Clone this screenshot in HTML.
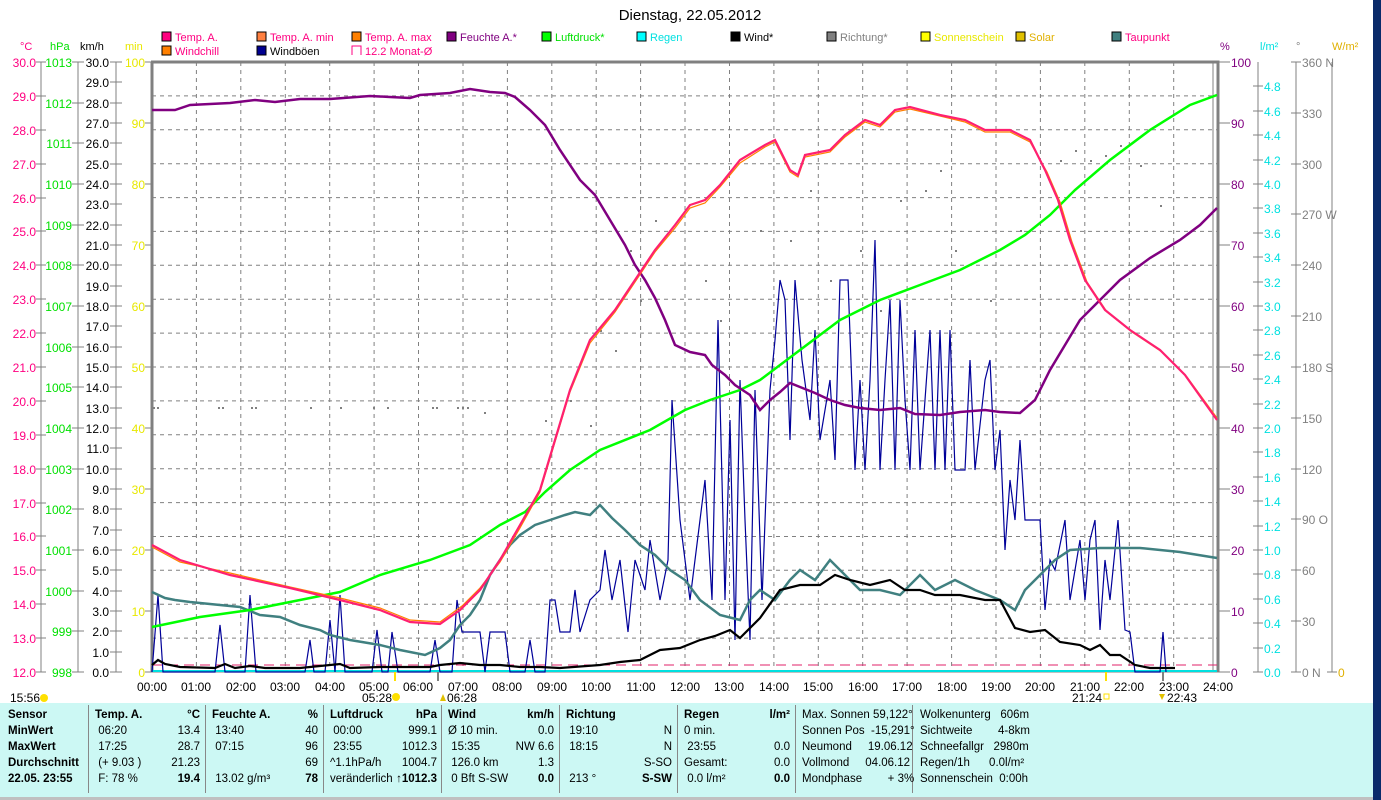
<!DOCTYPE html>
<html><head><meta charset="utf-8"><style>
body{margin:0;width:1381px;height:800px;overflow:hidden;background:#fff;font-family:"Liberation Sans",sans-serif}
svg{position:absolute;left:0;top:0}
.tb{position:absolute;left:0;top:703px;width:1373px;height:94px;background:#ccf8f4;font-family:"Liberation Sans",sans-serif;font-size:11.5px}
.c{position:absolute;top:4px;line-height:16px;white-space:pre}
.b{font-weight:bold}
.sep{position:absolute;top:2px;width:1px;height:88px;background:#888}
</style></head><body>
<svg width="1381" height="800" font-family="Liberation Sans, sans-serif" font-size="12">
<rect x="1373" y="0" width="8" height="800" fill="#0a2a6a"/>
<text x="690" y="20" font-size="15" text-anchor="middle">Dienstag, 22.05.2012</text>
<!-- legend -->
<g font-size="11">
<rect x="162" y="32" width="9" height="9" fill="#ff0080" stroke="#000"/><text x="175" y="41" fill="#ff0080">Temp. A.</text>
<rect x="257" y="32" width="9" height="9" fill="#ff8040" stroke="#000"/><text x="270" y="41" fill="#ff0080">Temp. A. min</text>
<rect x="352" y="32" width="9" height="9" fill="#ff8000" stroke="#000"/><text x="365" y="41" fill="#ff0080">Temp. A. max</text>
<rect x="447" y="32" width="9" height="9" fill="#800080" stroke="#000"/><text x="460" y="41" fill="#800080">Feuchte A.*</text>
<rect x="542" y="32" width="9" height="9" fill="#00ff00" stroke="#000"/><text x="555" y="41" fill="#00e000">Luftdruck*</text>
<rect x="637" y="32" width="9" height="9" fill="#00ffff" stroke="#000"/><text x="650" y="41" fill="#00e0e0">Regen</text>
<rect x="731" y="32" width="9" height="9" fill="#000" stroke="#000"/><text x="744" y="41">Wind*</text>
<rect x="827" y="32" width="9" height="9" fill="#808080" stroke="#000"/><text x="840" y="41" fill="#808080">Richtung*</text>
<rect x="921" y="32" width="9" height="9" fill="#ffff00" stroke="#000"/><text x="934" y="41" fill="#e8e800">Sonnenschein</text>
<rect x="1016" y="32" width="9" height="9" fill="#e0c000" stroke="#000"/><text x="1029" y="41" fill="#e0b000">Solar</text>
<rect x="1112" y="32" width="9" height="9" fill="#408080" stroke="#000"/><text x="1125" y="41" fill="#ff0080">Taupunkt</text>
<rect x="162" y="46" width="9" height="9" fill="#ff8000" stroke="#000"/><text x="175" y="55" fill="#ff0080">Windchill</text>
<rect x="257" y="46" width="9" height="9" fill="#000090" stroke="#000"/><text x="270" y="55">Windböen</text>
<path d="M352 55V46h9v9" fill="none" stroke="#ff0080"/><text x="365" y="55" fill="#ff0080">12.2 Monat-Ø</text>
</g>
<!-- axis headers -->
<g font-size="11">
<text x="20" y="50" fill="#ff0080">°C</text><text x="50" y="50" fill="#00e000">hPa</text><text x="80" y="50">km/h</text><text x="125" y="50" fill="#e8e800">min</text>
<text x="1220" y="50" fill="#800080">%</text><text x="1260" y="50" fill="#00e0e0">l/m²</text><text x="1296" y="50" fill="#808080">°</text><text x="1332" y="50" fill="#e0b000">W/m²</text>
</g>
<!-- grid -->
<g stroke="#808080" stroke-dasharray="4,4" stroke-width="1">
<path d="M196.4 62V672M240.8 62V672M285.3 62V672M329.7 62V672M374.1 62V672M418.5 62V672M463 62V672M507.4 62V672M551.8 62V672M596.2 62V672M640.6 62V672M685 62V672M729.5 62V672M773.9 62V672M818.3 62V672M862.7 62V672M907.1 62V672M951.6 62V672M996 62V672M1040.4 62V672M1084.8 62V672M1129.3 62V672M1173.7 62V672"/>
<path d="M152 95.9H1217M152 129.8H1217M152 163.7H1217M152 197.6H1217M152 231.4H1217M152 265.3H1217M152 299.2H1217M152 333.1H1217M152 367H1217M152 400.9H1217M152 434.8H1217M152 468.7H1217M152 502.6H1217M152 536.5H1217M152 570.3H1217M152 604.2H1217M152 638.1H1217"/>
</g>
<!-- plot frame -->
<path d="M151 62H1218V672M152 62V672" stroke="#808080" stroke-width="3" fill="none"/>
<line x1="1213" y1="62" x2="1213" y2="672" stroke="#808080" stroke-width="1"/>
<line x1="152" y1="672" x2="1218" y2="672" stroke="#808080"/>
<!-- left axes -->
<g stroke="#808080" fill="none"><path d="M41 62V672M78 62V672M116 62V672"/></g>
<g fill="#ff0080" text-anchor="end" font-size="12">
<text x="36" y="67">30.0</text><text x="36" y="101">29.0</text><text x="36" y="135">28.0</text><text x="36" y="169">27.0</text><text x="36" y="203">26.0</text><text x="36" y="236">25.0</text><text x="36" y="270">24.0</text><text x="36" y="304">23.0</text><text x="36" y="338">22.0</text><text x="36" y="372">21.0</text><text x="36" y="406">20.0</text><text x="36" y="440">19.0</text><text x="36" y="474">18.0</text><text x="36" y="508">17.0</text><text x="36" y="541">16.0</text><text x="36" y="575">15.0</text><text x="36" y="609">14.0</text><text x="36" y="643">13.0</text><text x="36" y="677">12.0</text>
</g>
<g stroke="#808080"><path d="M36 62h10M36 96h10M36 130h10M36 164h10M36 198h10M36 231h10M36 265h10M36 299h10M36 333h10M36 367h10M36 401h10M36 435h10M36 469h10M36 503h10M36 536h10M36 570h10M36 604h10M36 638h10M36 672h10"/>
<path d="M72 62h12M72 103h12M72 143h12M72 184h12M72 225h12M72 265h12M72 306h12M72 347h12M72 387h12M72 428h12M72 469h12M72 509h12M72 550h12M72 591h12M72 631h12M72 672h12"/>
<path d="M110 62h12M110 82h12M110 103h12M110 123h12M110 143h12M110 164h12M110 184h12M110 204h12M110 225h12M110 245h12M110 265h12M110 286h12M110 306h12M110 326h12M110 347h12M110 367h12M110 387h12M110 408h12M110 428h12M110 448h12M110 469h12M110 489h12M110 509h12M110 530h12M110 550h12M110 570h12M110 591h12M110 611h12M110 631h12M110 652h12M110 672h12"/>
<path d="M145 62h7M145 123h7M145 184h7M145 245h7M145 306h7M145 367h7M145 428h7M145 489h7M145 550h7M145 611h7M145 672h7"/></g>
<g fill="#00e000" text-anchor="end" font-size="12">
<text x="72" y="67">1013</text><text x="72" y="108">1012</text><text x="72" y="148">1011</text><text x="72" y="189">1010</text><text x="72" y="230">1009</text><text x="72" y="270">1008</text><text x="72" y="311">1007</text><text x="72" y="352">1006</text><text x="72" y="392">1005</text><text x="72" y="433">1004</text><text x="72" y="474">1003</text><text x="72" y="514">1002</text><text x="72" y="555">1001</text><text x="72" y="596">1000</text><text x="72" y="636">999</text><text x="72" y="677">998</text>
</g>
<g fill="#000" text-anchor="end" font-size="12">
<text x="109" y="67">30.0</text><text x="109" y="87">29.0</text><text x="109" y="108">28.0</text><text x="109" y="128">27.0</text><text x="109" y="148">26.0</text><text x="109" y="169">25.0</text><text x="109" y="189">24.0</text><text x="109" y="209">23.0</text><text x="109" y="230">22.0</text><text x="109" y="250">21.0</text><text x="109" y="270">20.0</text><text x="109" y="291">19.0</text><text x="109" y="311">18.0</text><text x="109" y="331">17.0</text><text x="109" y="352">16.0</text><text x="109" y="372">15.0</text><text x="109" y="392">14.0</text><text x="109" y="413">13.0</text><text x="109" y="433">12.0</text><text x="109" y="453">11.0</text><text x="109" y="474">10.0</text><text x="109" y="494">9.0</text><text x="109" y="514">8.0</text><text x="109" y="535">7.0</text><text x="109" y="555">6.0</text><text x="109" y="575">5.0</text><text x="109" y="596">4.0</text><text x="109" y="616">3.0</text><text x="109" y="636">2.0</text><text x="109" y="657">1.0</text><text x="109" y="677">0.0</text>
</g>
<g fill="#e8e800" text-anchor="end" font-size="12">
<text x="145" y="67">100</text><text x="145" y="128">90</text><text x="145" y="189">80</text><text x="145" y="250">70</text><text x="145" y="311">60</text><text x="145" y="372">50</text><text x="145" y="433">40</text><text x="145" y="494">30</text><text x="145" y="555">20</text><text x="145" y="616">10</text><text x="145" y="677">0</text>
</g>
<!-- right axes -->
<g stroke="#808080" fill="none"><path d="M1218 62h12M1218 123h12M1218 184h12M1218 245h12M1218 306h12M1218 367h12M1218 428h12M1218 489h12M1218 550h12M1218 611h12M1218 672h12"/>
<path d="M1258 62V672M1296 62V672M1332 62V672"/>
<path d="M1253 86h10M1253 111h10M1253 135h10M1253 160h10M1253 184h10M1253 208h10M1253 233h10M1253 257h10M1253 282h10M1253 306h10M1253 330h10M1253 355h10M1253 379h10M1253 404h10M1253 428h10M1253 452h10M1253 477h10M1253 501h10M1253 526h10M1253 550h10M1253 574h10M1253 599h10M1253 623h10M1253 648h10M1253 672h10"/>
<path d="M1291 62h10M1291 113h10M1291 164h10M1291 214h10M1291 265h10M1291 316h10M1291 367h10M1291 418h10M1291 469h10M1291 519h10M1291 570h10M1291 621h10M1291 672h10M1327 672h10"/></g>
<g fill="#800080" font-size="12">
<text x="1231" y="67">100</text><text x="1231" y="128">90</text><text x="1231" y="189">80</text><text x="1231" y="250">70</text><text x="1231" y="311">60</text><text x="1231" y="372">50</text><text x="1231" y="433">40</text><text x="1231" y="494">30</text><text x="1231" y="555">20</text><text x="1231" y="616">10</text><text x="1231" y="677">0</text>
</g>
<g fill="#00e0e0" font-size="12">
<text x="1264" y="91">4.8</text><text x="1264" y="116">4.6</text><text x="1264" y="140">4.4</text><text x="1264" y="165">4.2</text><text x="1264" y="189">4.0</text><text x="1264" y="213">3.8</text><text x="1264" y="238">3.6</text><text x="1264" y="262">3.4</text><text x="1264" y="287">3.2</text><text x="1264" y="311">3.0</text><text x="1264" y="335">2.8</text><text x="1264" y="360">2.6</text><text x="1264" y="384">2.4</text><text x="1264" y="409">2.2</text><text x="1264" y="433">2.0</text><text x="1264" y="457">1.8</text><text x="1264" y="482">1.6</text><text x="1264" y="506">1.4</text><text x="1264" y="531">1.2</text><text x="1264" y="555">1.0</text><text x="1264" y="579">0.8</text><text x="1264" y="604">0.6</text><text x="1264" y="628">0.4</text><text x="1264" y="653">0.2</text><text x="1264" y="677">0.0</text>
</g>
<g fill="#808080" font-size="12">
<text x="1302" y="67">360 N</text><text x="1302" y="118">330</text><text x="1302" y="169">300</text><text x="1302" y="219">270 W</text><text x="1302" y="270">240</text><text x="1302" y="321">210</text><text x="1302" y="372">180 S</text><text x="1302" y="423">150</text><text x="1302" y="474">120</text><text x="1302" y="524">90  O</text><text x="1302" y="575">60</text><text x="1302" y="626">30</text><text x="1302" y="677">0   N</text>
</g>
<text x="1338" y="677" fill="#e0b000" font-size="12">0</text>
<!-- time labels -->
<g font-size="12" text-anchor="middle">
<text x="152" y="691">00:00</text><text x="196" y="691">01:00</text><text x="241" y="691">02:00</text><text x="285" y="691">03:00</text><text x="330" y="691">04:00</text><text x="374" y="691">05:00</text><text x="418" y="691">06:00</text><text x="463" y="691">07:00</text><text x="507" y="691">08:00</text><text x="552" y="691">09:00</text><text x="596" y="691">10:00</text><text x="641" y="691">11:00</text><text x="685" y="691">12:00</text><text x="729" y="691">13:00</text><text x="774" y="691">14:00</text><text x="818" y="691">15:00</text><text x="863" y="691">16:00</text><text x="907" y="691">17:00</text><text x="952" y="691">18:00</text><text x="996" y="691">19:00</text><text x="1040" y="691">20:00</text><text x="1085" y="691">21:00</text><text x="1129" y="691">22:00</text><text x="1174" y="691">23:00</text><text x="1218" y="691">24:00</text>
</g>
<g font-size="12"><text x="10" y="702">15:56</text><text x="362" y="702">05:28</text><text x="447" y="702">06:28</text><text x="1072" y="702">21:24</text><text x="1167" y="702">22:43</text></g>
<circle cx="44" cy="698" r="4" fill="#ffe000"/><circle cx="396" cy="697" r="4" fill="#ffe000"/><path d="M440 701l3-7 3 7z" fill="#e0c000"/>
<rect x="1104" y="694" width="5" height="5" fill="none" stroke="#ffe000"/><path d="M1159 694l3 6 3-6z" fill="#e0c000"/>
<line x1="395" y1="671" x2="395" y2="681" stroke="#ffe000" stroke-width="2"/><line x1="438" y1="671" x2="438" y2="681" stroke="#808080" stroke-width="2"/>
<line x1="1106" y1="671" x2="1106" y2="681" stroke="#ffe000" stroke-width="2"/><line x1="1163" y1="671" x2="1163" y2="681" stroke="#808080" stroke-width="2"/>
<!-- direction dots -->
<g fill="#808080">
<rect x="153" y="407" width="2" height="2"/><rect x="157" y="407" width="2" height="2"/><rect x="218" y="407" width="2" height="2"/><rect x="222" y="407" width="2" height="2"/><rect x="251" y="407" width="2" height="2"/><rect x="255" y="407" width="2" height="2"/><rect x="310" y="407" width="2" height="2"/><rect x="340" y="407" width="2" height="2"/><rect x="373" y="407" width="2" height="2"/><rect x="387" y="407" width="2" height="2"/><rect x="432" y="407" width="2" height="2"/><rect x="436" y="407" width="2" height="2"/><rect x="457" y="407" width="2" height="2"/><rect x="462" y="407" width="2" height="2"/><rect x="467" y="407" width="2" height="2"/><rect x="484" y="412" width="2" height="2"/><rect x="545" y="420" width="2" height="2"/><rect x="570" y="400" width="2" height="2"/><rect x="590" y="425" width="2" height="2"/><rect x="600" y="330" width="2" height="2"/><rect x="615" y="350" width="2" height="2"/><rect x="630" y="250" width="2" height="2"/><rect x="640" y="300" width="2" height="2"/><rect x="655" y="220" width="2" height="2"/><rect x="705" y="280" width="2" height="2"/><rect x="720" y="320" width="2" height="2"/><rect x="760" y="230" width="2" height="2"/><rect x="790" y="240" width="2" height="2"/><rect x="810" y="190" width="2" height="2"/><rect x="830" y="280" width="2" height="2"/><rect x="860" y="250" width="2" height="2"/><rect x="880" y="310" width="2" height="2"/><rect x="900" y="200" width="2" height="2"/><rect x="925" y="190" width="2" height="2"/><rect x="940" y="170" width="2" height="2"/><rect x="955" y="250" width="2" height="2"/><rect x="990" y="300" width="2" height="2"/><rect x="1020" y="230" width="2" height="2"/><rect x="1060" y="160" width="2" height="2"/><rect x="1075" y="150" width="2" height="2"/><rect x="1090" y="160" width="2" height="2"/><rect x="1105" y="155" width="2" height="2"/><rect x="1120" y="145" width="2" height="2"/><rect x="1140" y="165" width="2" height="2"/><rect x="1160" y="205" width="2" height="2"/><rect x="1035" y="390" width="2" height="2"/>
</g>
<!-- ref lines -->
<line x1="152" y1="665" x2="1217" y2="665" stroke="#e0206a" stroke-dasharray="10,6" stroke-width="1"/>
<line x1="152" y1="671" x2="1217" y2="671" stroke="#00e0e0" stroke-width="2"/>
<!-- gusts -->
<polyline fill="none" stroke="#000099" stroke-width="1.2" points="152,672 158,595 163,672 215,672 220,625 225,672 245,672 250,595 256,672 305,672 310,640 314,672 325,672 330,620 335,672 340,595 345,672 372,672 377,630 382,672 388,672 392,632 398,672 430,672 435,640 440,672 452,672 457,600 462,632 480,632 485,672 490,632 505,632 510,672 525,672 530,640 535,672 545,672 550,600 555,600 560,632 570,632 575,590 580,632 590,600 600,590 605,550 612,600 620,560 628,632 635,560 645,590 650,540 660,600 668,560 672,400 680,520 690,600 700,520 705,480 712,600 718,320 725,600 730,420 735,640 740,380 745,520 750,640 755,390 762,600 770,390 775,340 780,280 785,300 790,440 795,280 802,360 810,420 815,330 820,440 830,380 835,460 840,280 848,280 855,470 860,380 865,470 870,380 875,240 880,470 885,380 890,300 895,470 900,300 905,400 910,470 915,330 920,470 930,330 935,470 940,330 945,470 950,330 955,470 965,470 970,360 975,470 985,380 990,360 995,470 1000,430 1005,550 1010,480 1015,520 1020,440 1025,520 1040,520 1045,610 1050,560 1055,570 1065,520 1070,600 1080,540 1085,600 1090,540 1095,520 1100,630 1105,560 1110,600 1118,520 1125,630 1130,632 1135,672 1160,672 1163,632 1166,672"/>
<!-- dewpoint -->
<polyline fill="none" stroke="#408080" stroke-width="2.5" points="152,592 165,598 175,600 190,602 220,605 240,607 260,615 280,617 300,625 320,630 330,635 350,640 380,645 400,650 425,655 440,648 450,640 460,625 470,615 480,600 490,575 500,560 510,545 520,535 535,525 550,520 565,515 575,512 590,515 600,505 612,518 625,530 640,545 655,555 670,570 685,580 700,600 720,615 740,620 750,600 760,590 775,600 790,580 800,570 815,580 830,560 845,575 860,590 880,590 900,595 920,575 935,590 955,580 975,590 1000,600 1015,610 1025,590 1040,575 1055,560 1070,550 1100,548 1140,548 1180,552 1217,558"/>
<!-- pressure -->
<polyline fill="none" stroke="#00ff00" stroke-width="2.5" points="152,627 200,617 250,610 300,600 340,592 380,575 430,560 470,545 500,525 525,512 545,492 570,470 600,450 650,430 685,410 710,400 740,390 760,380 800,350 840,320 880,300 920,285 960,270 1000,250 1025,235 1050,215 1075,190 1110,160 1150,130 1190,105 1217,95"/>
<!-- humidity -->
<polyline fill="none" stroke="#800080" stroke-width="2.5" points="152,110 175,110 190,105 230,103 255,100 275,102 300,99 330,99 370,96 390,97 410,98 420,95 450,93 470,89 490,92 505,93 515,97 530,110 545,125 560,150 580,180 595,195 610,220 625,245 635,265 645,280 655,298 665,320 675,345 690,352 705,355 712,365 725,375 735,385 750,395 760,410 770,400 780,392 790,383 800,387 815,393 830,400 845,405 860,408 880,410 900,408 915,414 940,415 960,412 985,410 1000,412 1020,413 1035,400 1050,370 1065,345 1080,320 1100,300 1120,280 1150,258 1180,240 1200,225 1217,208"/>
<!-- temps -->
<polyline fill="none" stroke="#ff8000" stroke-width="1.2" points="152,547 180,562 230,573 290,587 340,598 380,608 410,620 440,622 462,606 480,588 500,562 520,528 540,492 555,442 570,392 590,343 615,312 635,282 655,252 675,228 690,208 705,203 720,187 740,163 765,147 775,142 790,172 798,177 805,157 830,152 845,137 865,122 880,127 895,112 910,109 940,116 965,122 985,132 1010,132 1030,142 1047,172 1060,202 1072,242 1087,282 1107,312 1132,332 1162,352 1187,377 1217,418"/>
<polyline fill="none" stroke="#ff2070" stroke-width="2.2" points="152,545 180,560 230,575 290,588 340,600 380,610 410,622 440,624 460,610 480,590 500,560 520,525 540,490 555,440 570,390 590,340 615,310 635,280 655,250 675,225 690,205 705,200 720,185 740,160 765,145 775,140 790,170 798,175 805,155 830,150 845,135 865,120 880,125 895,110 910,107 940,115 965,120 985,130 1010,130 1030,140 1045,170 1058,200 1070,240 1085,280 1105,310 1130,330 1160,350 1185,375 1217,420"/>
<!-- wind -->
<polyline fill="none" stroke="#000" stroke-width="2.2" points="152,665 158,660 165,664 180,667 215,668 225,664 235,668 250,666 265,668 300,668 340,664 350,668 380,667 430,667 440,665 460,663 480,665 500,665 520,667 540,667 560,668 600,665 620,662 640,660 660,650 680,648 700,640 715,636 730,630 740,638 760,618 780,590 800,585 820,585 835,575 850,580 870,585 890,580 905,590 920,590 935,595 960,595 985,600 1000,600 1015,628 1030,632 1045,630 1060,642 1080,645 1090,650 1100,645 1110,655 1120,655 1135,665 1150,668 1175,668"/>
<rect x="0" y="797" width="1373" height="3" fill="#c0c0c0"/>
</svg>
<div class="tb">
<div class="sep" style="left:88px"></div><div class="sep" style="left:205px"></div><div class="sep" style="left:323px"></div><div class="sep" style="left:441px"></div><div class="sep" style="left:559px"></div><div class="sep" style="left:677px"></div><div class="sep" style="left:795px"></div><div class="sep" style="left:912px"></div>
<div class="c b" style="left:8px">Sensor
MinWert
MaxWert
Durchschnitt
22.05. 23:55</div>
<div class="c" style="left:95px"><b>Temp. A.</b>
 06:20
 17:25
 (+ 9.03 )
 F: 78 %</div>
<div class="c" style="left:150px;width:50px;text-align:right"><b>°C</b>
13.4
28.7
21.23
<b>19.4</b></div>
<div class="c" style="left:212px"><b>Feuchte A.</b>
 13:40
 07:15

 13.02 g/m³</div>
<div class="c" style="left:270px;width:48px;text-align:right"><b>%</b>
40
96
69
<b>78</b></div>
<div class="c" style="left:330px"><b>Luftdruck</b>
 00:00
 23:55
^1.1hPa/h
veränderlich</div>
<div class="c" style="left:380px;width:57px;text-align:right"><b>hPa</b>
999.1
1012.3
1004.7
<b>↑1012.3</b></div>
<div class="c" style="left:448px"><b>Wind</b>
Ø 10 min.
 15:35
 126.0 km
 0 Bft S-SW</div>
<div class="c" style="left:500px;width:54px;text-align:right"><b>km/h</b>
0.0
NW 6.6
1.3
<b>0.0</b></div>
<div class="c" style="left:566px"><b>Richtung</b>
 19:10
 18:15

 213 °</div>
<div class="c" style="left:620px;width:52px;text-align:right">
N
N
S-SO
<b>S-SW</b></div>
<div class="c" style="left:684px"><b>Regen</b>
0 min.
 23:55
Gesamt:
 0.0 l/m²</div>
<div class="c" style="left:740px;width:50px;text-align:right"><b>l/m²</b>

0.0
0.0
<b>0.0</b></div>
<div class="c" style="left:802px">Max. Sonnen 59,122°
Sonnen Pos  -15,291°
Neumond     19.06.12
Vollmond     04.06.12
Mondphase        + 3%</div>
<div class="c" style="left:920px">Wolkenunterg   606m
Sichtweite        4-8km
Schneefallgr   2980m
Regen/1h      0.0l/m²
Sonnenschein  0:00h</div>
</div>
</body></html>
